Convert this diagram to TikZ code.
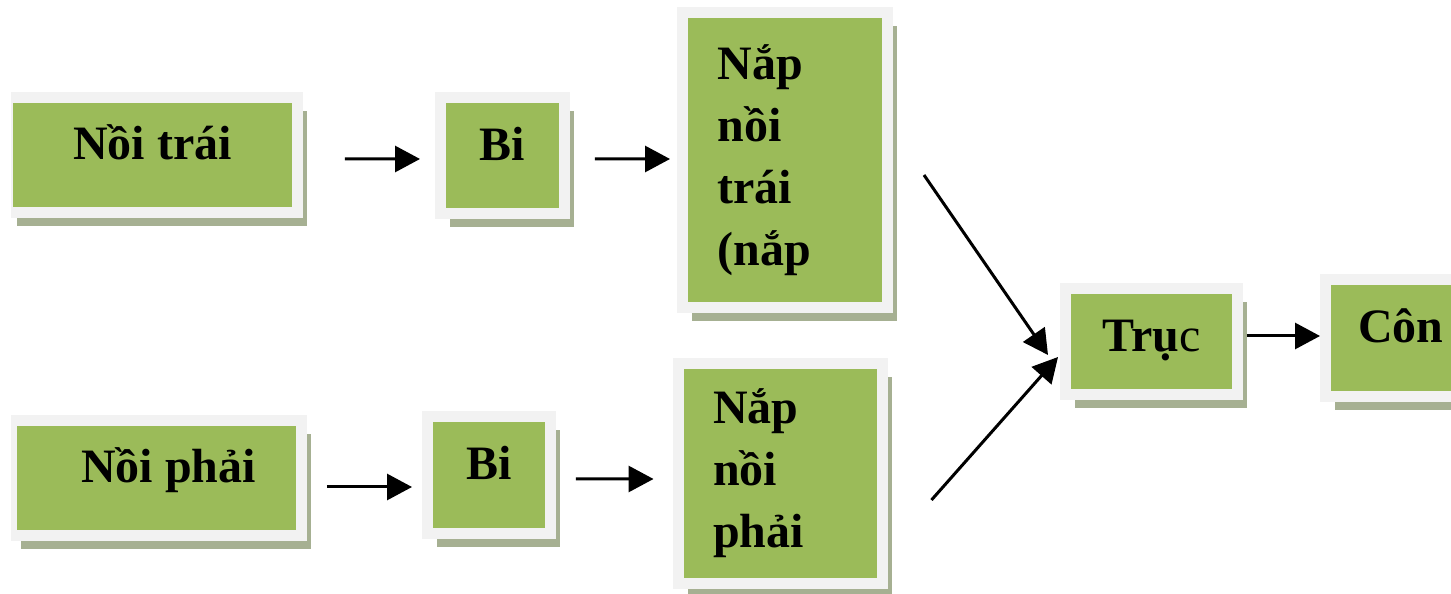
\documentclass[tikz,border=0pt]{standalone}
\usepackage{fontspec}
\setmainfont{Liberation Serif}
\usepackage{tikz}
\usetikzlibrary{positioning,shadows,arrows.meta}
\definecolor{leafgreen}{RGB}{155,187,89}
\definecolor{framegray}{RGB}{242,242,242}
\definecolor{shadowgreen}{RGB}{166,176,146}

\begin{document}
\begin{tikzpicture}[x=0.02cm,y=-0.02cm,
    partbox/.style={rectangle,fill=leafgreen,draw=framegray,line width=0.22cm,outer sep=0pt,
        drop shadow={shadow xshift=0.19cm,shadow yshift=-0.27cm,fill=shadowgreen,opacity=1},
        font=\bfseries\fontsize{27.3}{35.3}\selectfont},
    onebox/.style={partbox,text height=0.5cm,text depth=0.3cm},
    tallbox/.style={partbox,align=left,text width=2.7cm,inner xsep=0.7cm,minimum width=4.1cm},
    link/.style={-{Triangle[length=0.5cm,width=0.52cm]},line width=0.06cm}]
    \useasboundingbox (0,0) rectangle (1451,594);
    \clip (11,0) rectangle (1451,594);

    % Top row
    \node[onebox,minimum width=5.8cm,minimum height=2.3cm] (noiTrai) at (152.5,155) {Nồi trái};
    \node[onebox,minimum width=2.48cm,minimum height=2.32cm] (biTrai) at (502.5,155.5) {Bi};
    \node[tallbox,minimum height=5.9cm] (napTrai) at (785,160) {Nắp\\nồi\\trái\\(nắp};

    % Bottom row
    \node[onebox,minimum width=5.8cm,minimum height=2.3cm] (noiPhai) at (156.5,478) {\hspace*{0.48cm}Nồi phải};
    \node[onebox,minimum width=2.46cm,minimum height=2.34cm] (biPhai) at (489,475) {Bi};
    \node[tallbox,minimum height=4.4cm] (napPhai) at (780.5,473.5) {Nắp\\nồi\\phải};

    % Right part
    \node[onebox,text depth=0.1cm,minimum width=3.44cm,minimum height=2.12cm] (truc) at (1151.5,341.5) {Trụ{\mdseries c}};
    \node[onebox,minimum width=3.02cm,minimum height=2.34cm] (con) at (1401,338) {Côn};

    % Arrows
    \draw[link,shorten <=0.95cm,shorten >=0.41cm] ([shift={(0,4)}]noiTrai.east) -- ([shift={(0,3.5)}]biTrai.west);
    \draw[link,shorten <=0.61cm,shorten >=0.25cm] ([shift={(0,3.5)}]biTrai.east) -- ([shift={(0,-1)}]napTrai.west);
    \draw[link,shorten <=0.51cm,shorten >=0.31cm] ([shift={(0,9)}]noiPhai.east) -- ([shift={(0,12)}]biPhai.west);
    \draw[link,shorten <=0.51cm,shorten >=0.49cm] ([shift={(0,4)}]biPhai.east) -- ([shift={(0,5.5)}]napPhai.west);
    \draw[link] ([shift={(36.5,15)}]napTrai.east) -- ([shift={(-17.5,13.5)}]truc.west);
    \draw[link] ([shift={(48.5,26.5)}]napPhai.east) -- ([shift={(-7.5,15.5)}]truc.west);
    \draw[link,shorten <=0.19cm,shorten >=0.11cm] ([shift={(0,-5.5)}]truc.east) -- ([shift={(0,-2)}]con.west);
\end{tikzpicture}
\end{document}
